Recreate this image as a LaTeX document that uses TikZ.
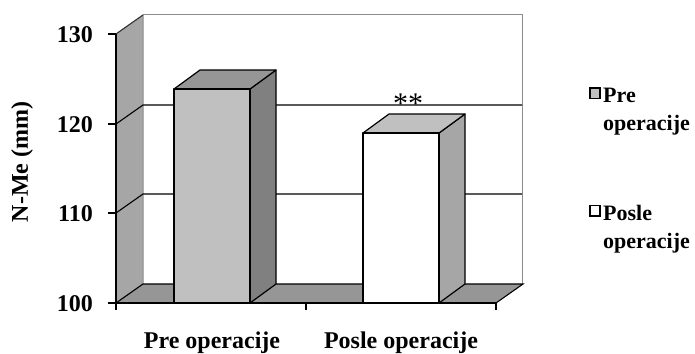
\documentclass[tikz,border=0pt]{standalone}
\usepackage{fontspec}
\setmainfont{Liberation Serif}
\definecolor{wallgray}{HTML}{A6A6A6}
\definecolor{floorgray}{HTML}{969696}
\definecolor{barA}{HTML}{C0C0C0}
\definecolor{barAtop}{HTML}{969696}
\definecolor{barAside}{HTML}{808080}
\definecolor{barBtop}{HTML}{C0C0C0}
\definecolor{barBside}{HTML}{A6A6A6}
\definecolor{edgegray}{HTML}{8C8C8C}
\tikzset{
  lbl/.style={font=\fontsize{24}{28}\selectfont\bfseries, inner sep=0pt},
  leglbl/.style={font=\fontsize{22}{26}\selectfont\bfseries, inner sep=0pt},
  barline/.style={draw=black, line width=1.2pt, line join=round},
  gridl/.style={draw=black, line width=1.1pt},
  axisl/.style={draw=black, line width=1.3pt},
}
\begin{document}
\begin{tikzpicture}[x=1pt,y=-1pt]
\useasboundingbox (0,0) rectangle (695,353);
\fill[white] (0,0) rectangle (695,353);
% back wall
\draw[edgegray, line width=1pt] (143,15) -- (522,15) -- (522,284);
% left wall
\filldraw[fill=wallgray, draw=edgegray, line width=1pt] (116,34) -- (143,15) -- (143,284) -- (116,303) -- cycle;
\draw[black!80, line width=1pt] (116,34) -- (143,15);
% floor
\filldraw[fill=floorgray, draw=black, line width=1.1pt] (116,303) -- (143,284) -- (523,284) -- (496,303) -- cycle;
% gridlines
\draw[gridl] (116,124) -- (143,105) -- (522,105);
\draw[gridl] (116,213) -- (143,194) -- (522,194);
% bar 1 (Pre operacije)
\filldraw[barline, fill=barAside] (250,89) -- (276,70) -- (276,284) -- (250,303) -- cycle;
\filldraw[barline, fill=barAtop] (174,89) -- (200,70) -- (276,70) -- (250,89) -- cycle;
\filldraw[barline, fill=barA] (174,89) rectangle (250,303);
% bar 2 (Posle operacije)
\filldraw[barline, fill=barBside] (439,133) -- (465,114) -- (465,284) -- (439,303) -- cycle;
\filldraw[barline, fill=barBtop] (363,133) -- (389,114) -- (465,114) -- (439,133) -- cycle;
\filldraw[barline, fill=white] (363,133) rectangle (439,303);
% axes
\draw[axisl] (116,34) -- (116,303) -- (496,303);
\foreach \yy in {34,124,213,303} \draw[axisl] (108,\yy) -- (116,\yy);
\foreach \xx in {116,306,496} \draw[axisl] (\xx,303) -- (\xx,310);
% y tick labels
\node[lbl, anchor=east] (t130) at (93,35) {130};
\node[lbl, anchor=east] (t120) at (93,125) {120};
\node[lbl, anchor=east] (t110) at (93,214) {110};
\node[lbl, anchor=east] (t100) at (93,304) {100};
% axis title
\node[lbl, rotate=90] (ytitle) at (22,162) {N-Me (mm)};
% category labels
\node[lbl, anchor=base] (c1) at (212,348) {Pre operacije};
\node[lbl, anchor=base] (c2) at (401,348) {Posle operacije};
% significance
\node[font=\fontsize{30}{32}\selectfont, inner sep=0pt] (sig) at (408,104) {**};
% legend
\draw[black, line width=1.3pt, fill=barA] (590,88) rectangle (600,98.5);
\node[leglbl, anchor=base west] (l1a) at (603,102) {Pre};
\node[leglbl, anchor=base west] (l1b) at (603,130) {operacije};
\draw[black, line width=1.3pt, fill=white] (590,205.5) rectangle (600,216);
\node[leglbl, anchor=base west] (l2a) at (603,220) {Posle};
\node[leglbl, anchor=base west] (l2b) at (603,248) {operacije};
\end{tikzpicture}
\end{document}
